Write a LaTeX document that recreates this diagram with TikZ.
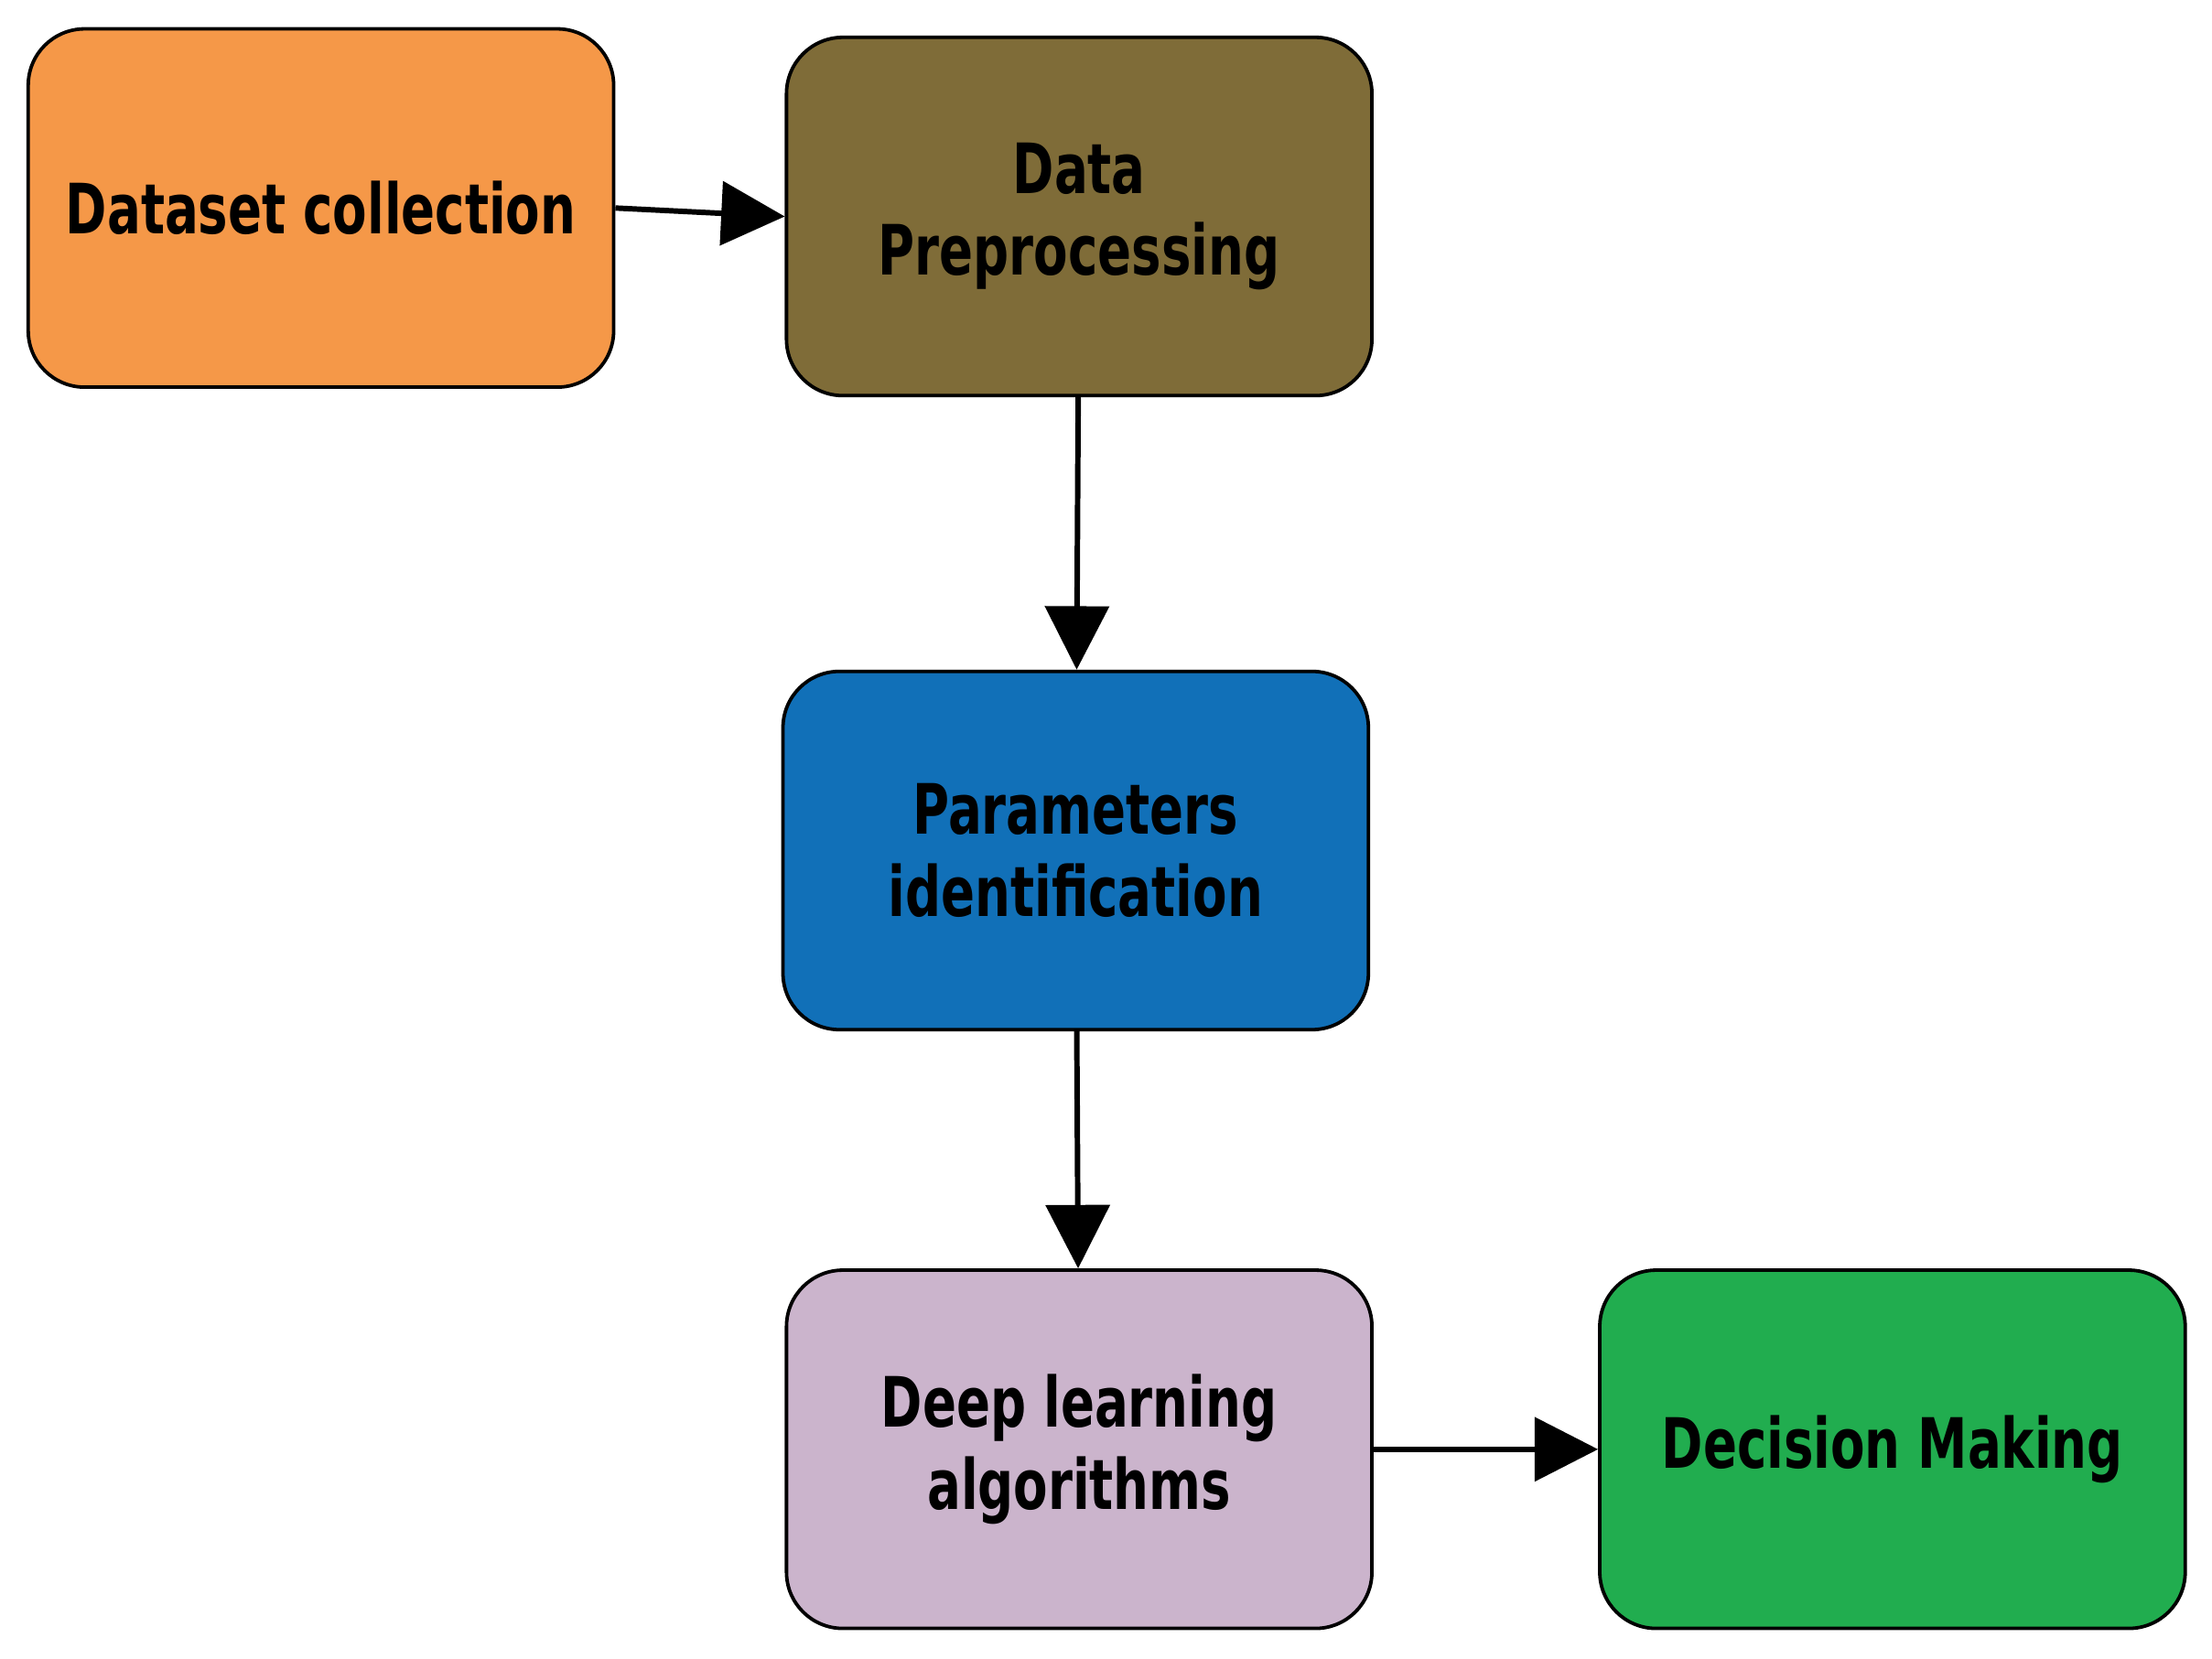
\documentclass[tikz,border=0pt]{standalone}
\usepackage{fontspec}
\setmainfont{DejaVu Sans Condensed}[FakeStretch=0.8]
\usetikzlibrary{arrows.meta}
\definecolor{cdata}{HTML}{F59848}
\definecolor{cprep}{HTML}{7F6C38}
\definecolor{cparam}{HTML}{1170B8}
\definecolor{cdeep}{HTML}{CBB4CC}
\definecolor{cdec}{HTML}{21AD4F}
\tikzset{
  box/.style={shape=rectangle,draw,line width=0.7pt,rounded corners=0.4cm,
    minimum width=4.15cm,minimum height=2.54cm,align=center,
    font=\fontsize{14}{16.5}\selectfont\bfseries},
  flow/.style={line width=1.1pt,-{Triangle[length=0.45cm,width=0.45cm]}}
}
\begin{document}
\begin{tikzpicture}
\useasboundingbox (0,0) rectangle (15.68,11.76);
\node(collect) at (2.275,10.285)[box,fill=cdata]   {Dataset collection};
\node(prep) at (7.65,10.225)[box,fill=cprep]       {Data\\Preprocessing};
\node(param) at (7.625,5.73)[box,fill=cparam]      {Parameters\\identification};
\node(deep) at (7.65,1.485)[box,fill=cdeep]        {Deep learning\\algorithms};
\node(decide) at (13.415,1.485)[box,fill=cdec]     {Decision Making};
\path [flow]
  (collect.east)      edge      (prep.west)
  (prep)              edge      (param)
  (param)             edge      (deep)
  (deep)              edge      (decide);
\end{tikzpicture}
\end{document}
